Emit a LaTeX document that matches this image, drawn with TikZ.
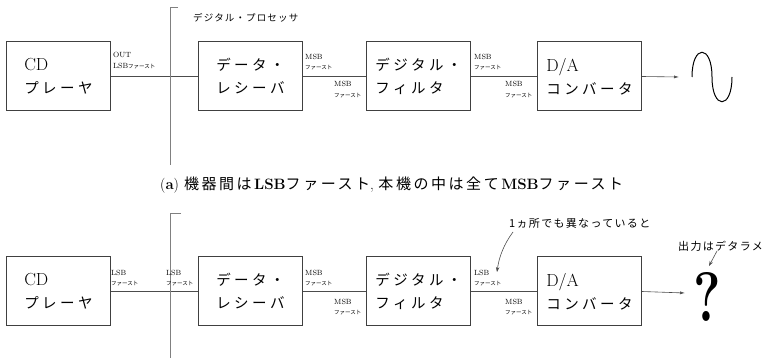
\documentclass[tikz,border=0pt]{standalone}
\usepackage{fontspec}
\usetikzlibrary{arrows.meta}
\newfontfamily\jp{Noto Sans CJK JP}
\newfontfamily\jpw[LetterSpace=24]{Noto Sans CJK JP}
\newfontfamily\jps[LetterSpace=12]{Noto Sans CJK JP}
\newfontfamily\jpc[LetterSpace=17]{Noto Sans CJK JP}
\tikzset{
  box/.style={draw=black!75, line width=1pt, minimum width=104pt, minimum height=69pt, inner sep=0pt, align=left, font=\fontsize{14.5}{23}\selectfont},
  wire/.style={draw=black!70, line width=0.6pt},
  small/.style={anchor=west, inner sep=0pt, font=\fontsize{7.5}{8}\selectfont},
  smalljp/.style={anchor=west, inner sep=0pt, font=\jp\fontsize{5.5}{6}\selectfont},
  outarrow/.style={wire, -{Latex[length=5pt,width=3pt]}},
  note/.style={anchor=west, inner sep=0pt, font=\jps\fontsize{11}{12}\selectfont},
}
\newcommand{\bigL}[1]{{\fontsize{17.5}{23}\selectfont #1}}
\begin{document}
\begin{tikzpicture}[x=1pt,y=-1pt]
\useasboundingbox (0,0) rectangle (769,358);
% ---------- top row (a) ----------
\node[box] (cd1) at (58.5,76.5) {\bigL{CD}\\{\jpw プレーヤ}};
\node[box] (rx1) at (250.5,76.5) {\jpw データ・\\\jpw レシーバ};
\node[box] (df1) at (418.5,76.5) {\jpw デジタル・\\\jpw フィルタ};
\node[box] (da1) at (589.5,76.5) {\bigL{D/A}\\{\jpw コンバータ}};
\draw[wire] (cd1.east) -- (rx1.west);
\draw[wire] (rx1.east) -- (df1.west);
\draw[wire] (df1.east) -- (da1.west);
\coordinate (o1) at (679,77);
\draw[outarrow] (da1.east) -- (o1);
% processor boundary
\coordinate (pt1) at (178,7);
\coordinate (pc1) at (170,7);
\coordinate (pb1) at (170,165);
\draw[wire, draw=black!50] (pt1) -- (pc1) -- (pb1);
\node[anchor=west, inner sep=0pt, font=\jps\fontsize{9.5}{10}\selectfont] (proc) at (193,18) {デジタル・プロセッサ};
% labels
\node[small] (l1a) at (113,55) {OUT};
\node[small] (l1b) at (113,66) {LSB{\jp\fontsize{5.5}{6}\selectfont ファースト}};
\node[small] (l2a) at (305,57) {MSB};
\node[smalljp] (l2b) at (305,68) {ファースト};
\node[small] (l3a) at (334,84) {MSB};
\node[smalljp] (l3b) at (334,96) {ファースト};
\node[small] (l4a) at (474,57) {MSB};
\node[smalljp] (l4b) at (474,68) {ファースト};
\node[small] (l5a) at (505,84) {MSB};
\node[smalljp] (l5b) at (505,96) {ファースト};
% sine wave
\coordinate (s0) at (692,77);
\coordinate (s1) at (712,77);
\coordinate (s2) at (732,77);
\draw[line width=1pt] (s0) .. controls (692,44) and (712,44) .. (s1) .. controls (712,110) and (732,110) .. (s2);
% caption
\node[anchor=west, inner sep=0pt, font=\fontsize{15}{16}\selectfont] (cap) at (160,185) {(\textbf{a})\,\,{\jpc 機器間は}\textbf{LSB}{\jpc ファースト}, {\jpc 本機の中は全て}\textbf{MSB}{\jpc ファースト}};
% ---------- bottom row (b) ----------
\node[box] (cd2) at (58.5,291.5) {\bigL{CD}\\{\jpw プレーヤ}};
\node[box] (rx2) at (250.5,291.5) {\jpw データ・\\\jpw レシーバ};
\node[box] (df2) at (418.5,291.5) {\jpw デジタル・\\\jpw フィルタ};
\node[box] (da2) at (589.5,291.5) {\bigL{D/A}\\{\jpw コンバータ}};
\draw[wire] (cd2.east) -- (rx2.west);
\draw[wire] (rx2.east) -- (df2.west);
\draw[wire] (df2.east) -- (da2.west);
\coordinate (o2) at (685,293);
\draw[outarrow] (da2.east) -- (o2);
\coordinate (pt2) at (181,213);
\coordinate (pc2) at (170,213);
\coordinate (pb2) at (170,358);
\draw[wire, draw=black!50] (pt2) -- (pc2) -- (pb2);
\node[small] (m1a) at (111,273) {LSB};
\node[smalljp] (m1b) at (111,284) {ファースト};
\node[small] (m2a) at (166,273) {LSB};
\node[smalljp] (m2b) at (166,284) {ファースト};
\node[small] (m3a) at (305,273) {MSB};
\node[smalljp] (m3b) at (305,284) {ファースト};
\node[small] (m4a) at (334,302) {MSB};
\node[smalljp] (m4b) at (334,313) {ファースト};
\node[small] (m5a) at (474,273) {LSB};
\node[smalljp] (m5b) at (474,284) {ファースト};
\node[small] (m6a) at (505,302) {MSB};
\node[smalljp] (m6b) at (505,313) {ファースト};
% question mark
\node[inner sep=0pt, font=\fontsize{40}{40}\selectfont\bfseries, xscale=1.3, yscale=1.75] (q) at (707,297) {?};
% notes
\node[note] (n1) at (509,223) {1{\jps ヵ所でも異なっていると}};
\coordinate (n1s) at (513,232);
\coordinate (n1e) at (497,272);
\draw[wire, -{Stealth[length=5pt,width=3.5pt]}] (n1s) .. controls (504,244) and (499,257) .. (n1e);
\node[note] (n2) at (678,246) {出力はデタラメ};
\coordinate (n2s) at (717,251);
\coordinate (n2e) at (709,266);
\draw[wire, -{Stealth[length=5pt,width=3.5pt]}] (n2s) -- (n2e);
\end{tikzpicture}
\end{document}
